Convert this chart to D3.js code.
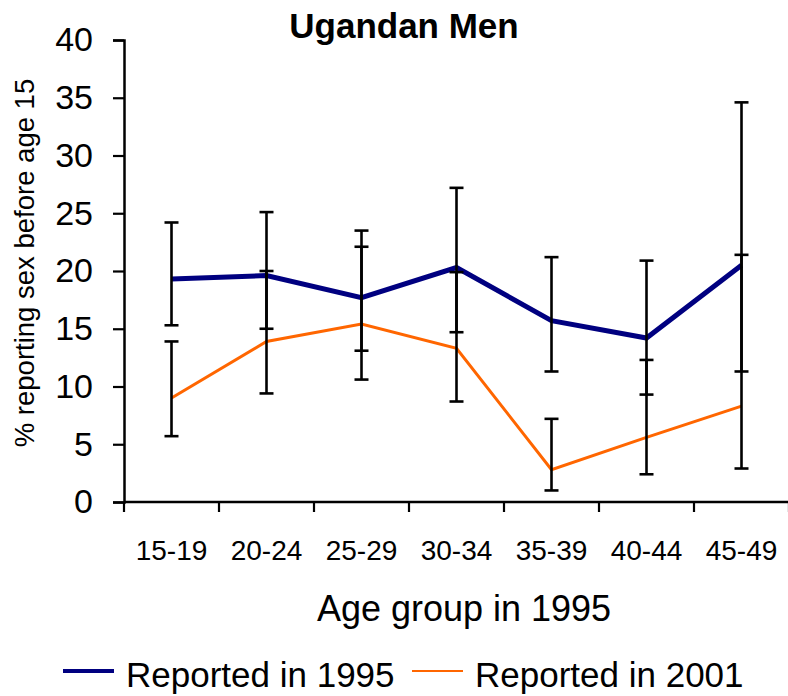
<!DOCTYPE html>
<html>
<head>
<meta charset="utf-8">
<script src="https://cdn.jsdelivr.net/npm/d3@7"></script>
<style>
  body { margin: 0; background: #fff; }
  svg { display: block; font-family: "Liberation Sans", Arial, sans-serif; }
</style>
</head>
<body>
<svg id="chart" width="788" height="696"></svg>
<script>
// age groups and the two survey rounds (with 95% CI bounds)
var categories = ["15-19", "20-24", "25-29", "30-34", "35-39", "40-44", "45-49"];
var yTicks = [0, 5, 10, 15, 20, 25, 30, 35, 40];

var rep1995 = [19.3, 19.6, 17.7, 20.3, 15.7, 14.2, 20.5];
var lo1995  = [15.3, 15.0, 13.1, 14.7, 11.3,  9.3, 11.3];
var hi1995  = [24.2, 25.1, 23.5, 27.2, 21.2, 20.9, 34.6];

var rep2001 = [ 9.0, 13.9, 15.4, 13.3,  2.8,  5.6,  8.3];
var lo2001  = [ 5.7,  9.4, 10.6,  8.7,  1.0,  2.4,  2.9];
var hi2001  = [13.9, 20.0, 22.1, 19.9,  7.2, 12.3, 21.4];

var seriesNames = ["Reported in 1995", "Reported in 2001"];

(function () {
    "use strict";
    var svg = d3.select("#chart");
    var left = 124, right = 789, top = 40, bottom = 502;

    var x = d3.scaleBand().domain(categories).range([left, right]);
    var y = d3.scaleLinear().domain([0, 40]).range([bottom, top]);
    var cx = function (c) { return x(c) + x.bandwidth() / 2; };

    var series = [
        { name: seriesNames[0], v: rep1995, lo: lo1995, hi: hi1995, color: "#000080", width: 5 },
        { name: seriesNames[1], v: rep2001, lo: lo2001, hi: hi2001, color: "#ff6600", width: 3 }
    ];

    // title
    svg.append("text")
        .attr("x", 404).attr("y", 38)
        .attr("text-anchor", "middle")
        .style("font-size", "35px").style("font-weight", "bold")
        .text("Ugandan Men");

    // y axis
    var yAxis = svg.append("g")
        .attr("transform", "translate(" + left + ",0)")
        .call(d3.axisLeft(y).tickValues(yTicks).tickSize(11).tickPadding(20));
    yAxis.selectAll("text").style("font-size", "34px").attr("fill", "#000");
    yAxis.select(".domain").attr("stroke-width", 2.5);
    yAxis.selectAll(".tick line").attr("stroke-width", 2.2);

    // x axis: ticks sit on the band edges, labels in band centres
    var xg = svg.append("g").attr("transform", "translate(0," + bottom + ")");
    xg.append("line")
        .attr("x1", left).attr("x2", right)
        .attr("stroke", "#000").attr("stroke-width", 2.5);
    xg.selectAll("line.tick")
        .data(categories.concat([null]))
      .enter().append("line")
        .attr("class", "tick")
        .attr("x1", function (d, i) { return left + i * x.bandwidth(); })
        .attr("x2", function (d, i) { return left + i * x.bandwidth(); })
        .attr("y1", 0).attr("y2", 10)
        .attr("stroke", "#000").attr("stroke-width", 2.2);
    xg.selectAll("text")
        .data(categories)
      .enter().append("text")
        .attr("x", cx).attr("y", 58)
        .attr("text-anchor", "middle")
        .style("font-size", "28px")
        .text(function (d) { return d; });

    // axis titles
    svg.append("text")
        .attr("x", 464).attr("y", 621)
        .attr("text-anchor", "middle")
        .style("font-size", "36px")
        .text("Age group in 1995");

    svg.append("text")
        .attr("transform", "translate(34,263) rotate(-90)")
        .attr("text-anchor", "middle")
        .style("font-size", "27.5px")
        .text("% reporting sex before age 15");

    // lines
    var line = d3.line()
        .x(function (d, i) { return cx(categories[i]); })
        .y(function (d) { return y(d); });

    svg.selectAll("path.series")
        .data(series)
      .enter().append("path")
        .attr("class", "series")
        .attr("fill", "none")
        .attr("stroke", function (s) { return s.color; })
        .attr("stroke-width", function (s) { return s.width; })
        .attr("d", function (s) { return line(s.v); });

    // error bars
    var bars = [];
    series.forEach(function (s) {
        categories.forEach(function (c, i) {
            bars.push({ c: c, lo: s.lo[i], hi: s.hi[i] });
        });
    });
    var eb = svg.selectAll("g.err").data(bars).enter().append("g")
        .attr("class", "err")
        .attr("stroke", "#000").attr("stroke-width", 2.6);
    eb.append("line")
        .attr("x1", function (d) { return cx(d.c); })
        .attr("x2", function (d) { return cx(d.c); })
        .attr("y1", function (d) { return y(d.lo); })
        .attr("y2", function (d) { return y(d.hi); });
    ["lo", "hi"].forEach(function (k) {
        eb.append("line")
            .attr("x1", function (d) { return cx(d.c) - 7; })
            .attr("x2", function (d) { return cx(d.c) + 7; })
            .attr("y1", function (d) { return y(d[k]); })
            .attr("y2", function (d) { return y(d[k]); });
    });

    // legend
    var legendPos = [{ x: 63, lineW: 51, tx: 126 }, { x: 412, lineW: 51, tx: 475 }];
    var lg = svg.selectAll("g.legend").data(series).enter().append("g")
        .attr("class", "legend");
    lg.append("line")
        .attr("x1", function (s, i) { return legendPos[i].x; })
        .attr("x2", function (s, i) { return legendPos[i].x + legendPos[i].lineW; })
        .attr("y1", 671).attr("y2", 671)
        .attr("stroke", function (s) { return s.color; })
        .attr("stroke-width", function (s) { return s.width - 1; });
    lg.append("text")
        .attr("x", function (s, i) { return legendPos[i].tx; })
        .attr("y", 687)
        .style("font-size", "35px")
        .text(function (s) { return s.name; });
})();
</script>
</body>
</html>
